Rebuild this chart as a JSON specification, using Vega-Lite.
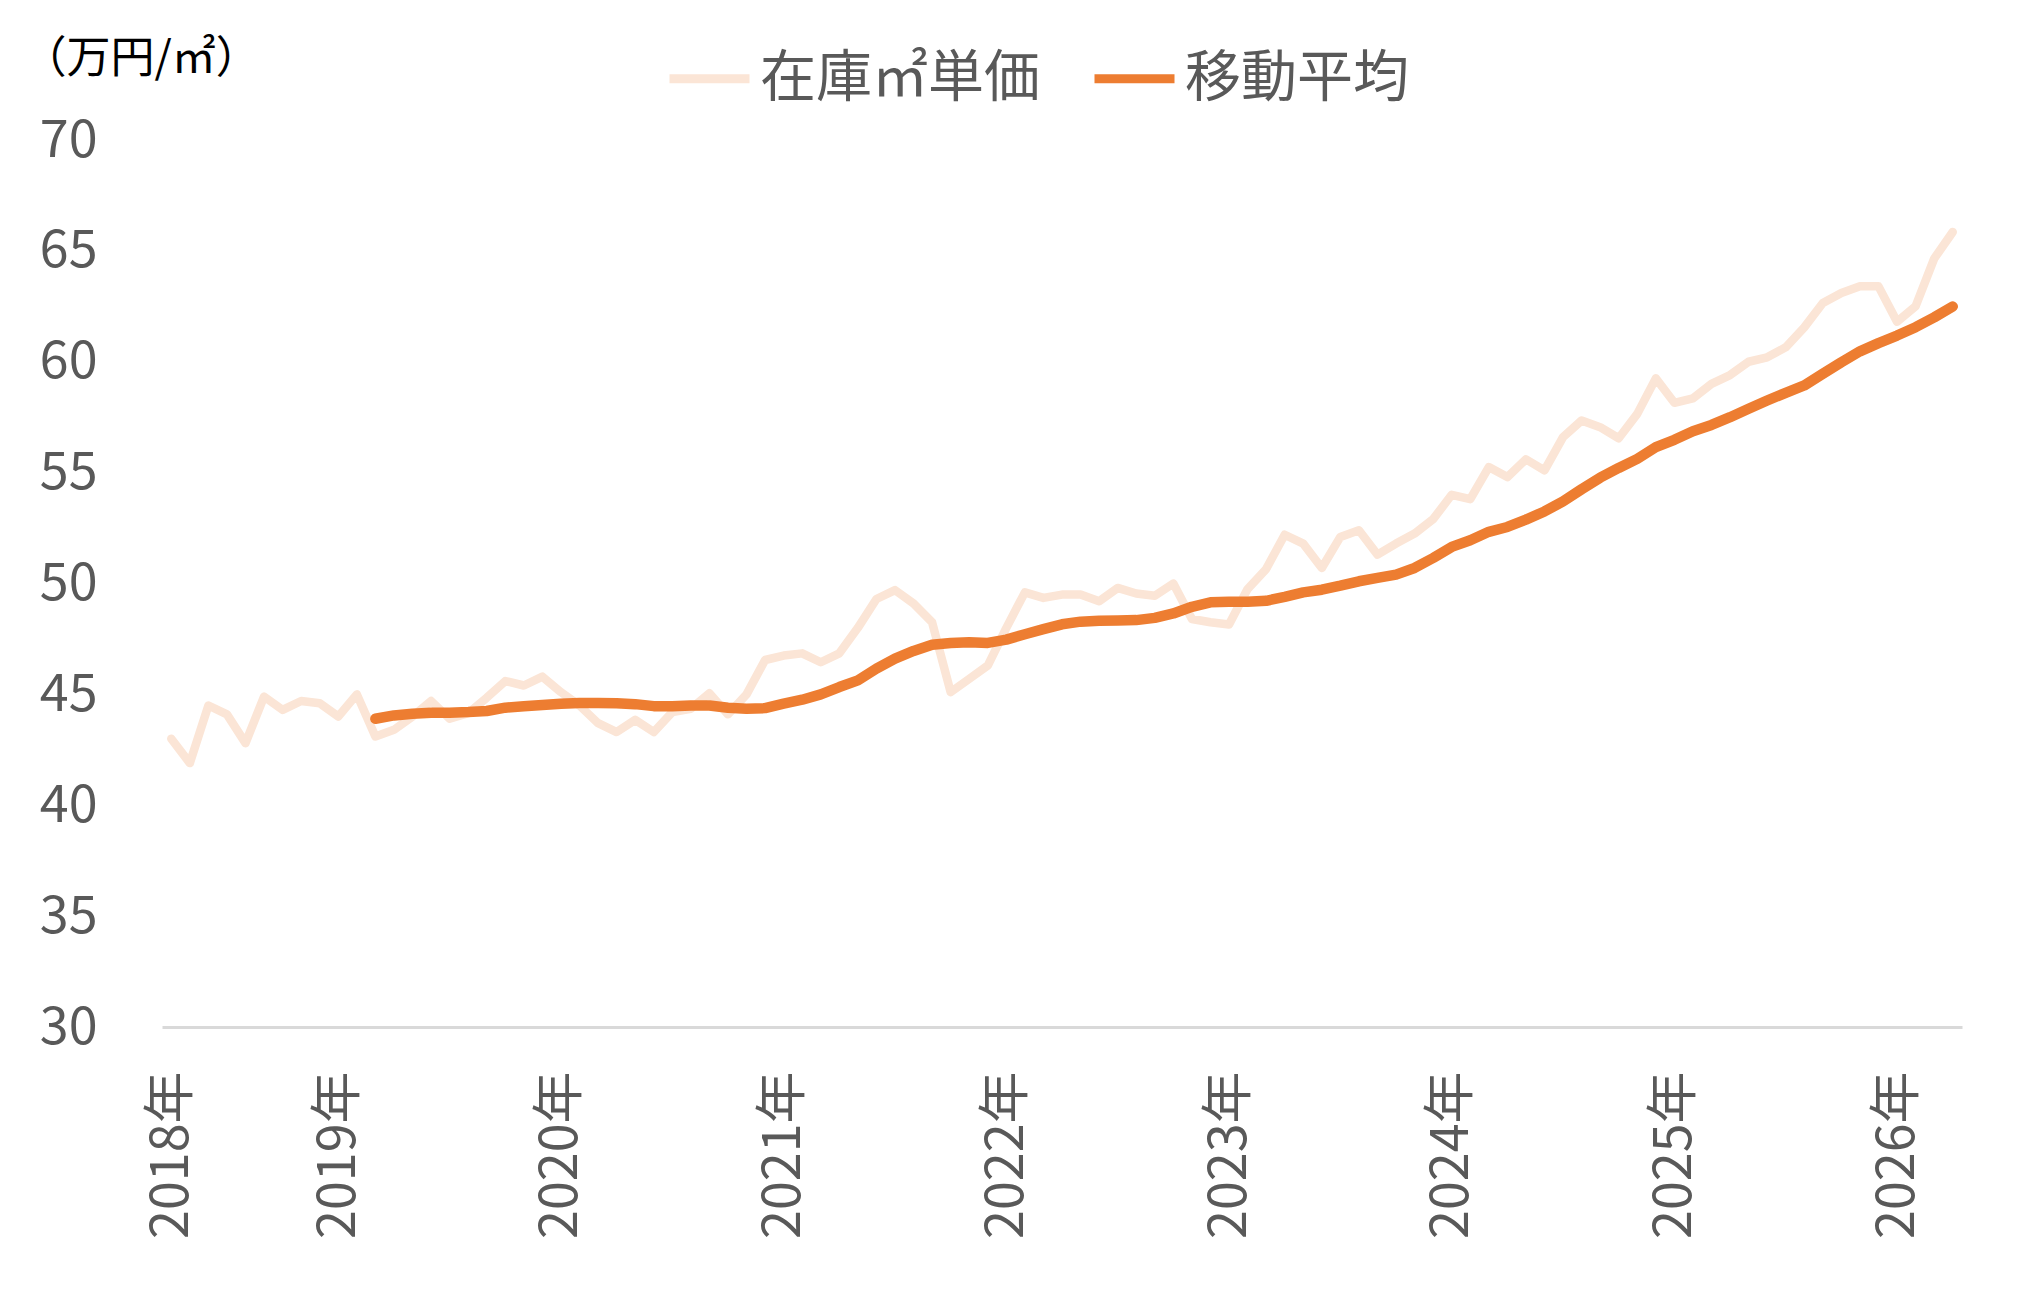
{
  "$schema": "https://vega.github.io/schema/vega-lite/v6.json",
  "width": 1800,
  "height": 887,
  "autosize": {"type": "none"},
  "padding": {"left": 162, "top": 140, "right": 56, "bottom": 273},
  "background": "white",
  "data": {
    "values": [
      {"m": "2018-04", "s": "在庫㎡単価", "v": 43.0},
      {"m": "2018-05", "s": "在庫㎡単価", "v": 41.9},
      {"m": "2018-06", "s": "在庫㎡単価", "v": 44.5},
      {"m": "2018-07", "s": "在庫㎡単価", "v": 44.1},
      {"m": "2018-08", "s": "在庫㎡単価", "v": 42.8},
      {"m": "2018-09", "s": "在庫㎡単価", "v": 44.9},
      {"m": "2018-10", "s": "在庫㎡単価", "v": 44.3},
      {"m": "2018-11", "s": "在庫㎡単価", "v": 44.7},
      {"m": "2018-12", "s": "在庫㎡単価", "v": 44.6},
      {"m": "2019-01", "s": "在庫㎡単価", "v": 44.0},
      {"m": "2019-02", "s": "在庫㎡単価", "v": 45.0},
      {"m": "2019-03", "s": "在庫㎡単価", "v": 43.1},
      {"m": "2019-04", "s": "在庫㎡単価", "v": 43.4},
      {"m": "2019-05", "s": "在庫㎡単価", "v": 44.0},
      {"m": "2019-06", "s": "在庫㎡単価", "v": 44.7},
      {"m": "2019-07", "s": "在庫㎡単価", "v": 43.9},
      {"m": "2019-08", "s": "在庫㎡単価", "v": 44.15},
      {"m": "2019-09", "s": "在庫㎡単価", "v": 44.85},
      {"m": "2019-10", "s": "在庫㎡単価", "v": 45.6},
      {"m": "2019-11", "s": "在庫㎡単価", "v": 45.4},
      {"m": "2019-12", "s": "在庫㎡単価", "v": 45.8},
      {"m": "2020-01", "s": "在庫㎡単価", "v": 45.1},
      {"m": "2020-02", "s": "在庫㎡単価", "v": 44.5},
      {"m": "2020-03", "s": "在庫㎡単価", "v": 43.7},
      {"m": "2020-04", "s": "在庫㎡単価", "v": 43.3},
      {"m": "2020-05", "s": "在庫㎡単価", "v": 43.85},
      {"m": "2020-06", "s": "在庫㎡単価", "v": 43.3},
      {"m": "2020-07", "s": "在庫㎡単価", "v": 44.2},
      {"m": "2020-08", "s": "在庫㎡単価", "v": 44.35},
      {"m": "2020-09", "s": "在庫㎡単価", "v": 45.05},
      {"m": "2020-10", "s": "在庫㎡単価", "v": 44.1},
      {"m": "2020-11", "s": "在庫㎡単価", "v": 45.0},
      {"m": "2020-12", "s": "在庫㎡単価", "v": 46.55},
      {"m": "2021-01", "s": "在庫㎡単価", "v": 46.75},
      {"m": "2021-02", "s": "在庫㎡単価", "v": 46.85},
      {"m": "2021-03", "s": "在庫㎡単価", "v": 46.45},
      {"m": "2021-04", "s": "在庫㎡単価", "v": 46.85},
      {"m": "2021-05", "s": "在庫㎡単価", "v": 48.0},
      {"m": "2021-06", "s": "在庫㎡単価", "v": 49.3},
      {"m": "2021-07", "s": "在庫㎡単価", "v": 49.7},
      {"m": "2021-08", "s": "在庫㎡単価", "v": 49.1},
      {"m": "2021-09", "s": "在庫㎡単価", "v": 48.25},
      {"m": "2021-10", "s": "在庫㎡単価", "v": 45.1},
      {"m": "2021-11", "s": "在庫㎡単価", "v": 45.7},
      {"m": "2021-12", "s": "在庫㎡単価", "v": 46.3},
      {"m": "2022-01", "s": "在庫㎡単価", "v": 48.0},
      {"m": "2022-02", "s": "在庫㎡単価", "v": 49.6},
      {"m": "2022-03", "s": "在庫㎡単価", "v": 49.35},
      {"m": "2022-04", "s": "在庫㎡単価", "v": 49.5},
      {"m": "2022-05", "s": "在庫㎡単価", "v": 49.5},
      {"m": "2022-06", "s": "在庫㎡単価", "v": 49.2},
      {"m": "2022-07", "s": "在庫㎡単価", "v": 49.8},
      {"m": "2022-08", "s": "在庫㎡単価", "v": 49.55},
      {"m": "2022-09", "s": "在庫㎡単価", "v": 49.45},
      {"m": "2022-10", "s": "在庫㎡単価", "v": 50.0},
      {"m": "2022-11", "s": "在庫㎡単価", "v": 48.4},
      {"m": "2022-12", "s": "在庫㎡単価", "v": 48.25},
      {"m": "2023-01", "s": "在庫㎡単価", "v": 48.15},
      {"m": "2023-02", "s": "在庫㎡単価", "v": 49.75},
      {"m": "2023-03", "s": "在庫㎡単価", "v": 50.65},
      {"m": "2023-04", "s": "在庫㎡単価", "v": 52.2},
      {"m": "2023-05", "s": "在庫㎡単価", "v": 51.8},
      {"m": "2023-06", "s": "在庫㎡単価", "v": 50.7},
      {"m": "2023-07", "s": "在庫㎡単価", "v": 52.1},
      {"m": "2023-08", "s": "在庫㎡単価", "v": 52.4},
      {"m": "2023-09", "s": "在庫㎡単価", "v": 51.3},
      {"m": "2023-10", "s": "在庫㎡単価", "v": 51.8},
      {"m": "2023-11", "s": "在庫㎡単価", "v": 52.25},
      {"m": "2023-12", "s": "在庫㎡単価", "v": 52.9},
      {"m": "2024-01", "s": "在庫㎡単価", "v": 54.0},
      {"m": "2024-02", "s": "在庫㎡単価", "v": 53.8},
      {"m": "2024-03", "s": "在庫㎡単価", "v": 55.25},
      {"m": "2024-04", "s": "在庫㎡単価", "v": 54.8},
      {"m": "2024-05", "s": "在庫㎡単価", "v": 55.6},
      {"m": "2024-06", "s": "在庫㎡単価", "v": 55.1},
      {"m": "2024-07", "s": "在庫㎡単価", "v": 56.6},
      {"m": "2024-08", "s": "在庫㎡単価", "v": 57.35},
      {"m": "2024-09", "s": "在庫㎡単価", "v": 57.05},
      {"m": "2024-10", "s": "在庫㎡単価", "v": 56.55},
      {"m": "2024-11", "s": "在庫㎡単価", "v": 57.65},
      {"m": "2024-12", "s": "在庫㎡単価", "v": 59.25},
      {"m": "2025-01", "s": "在庫㎡単価", "v": 58.15},
      {"m": "2025-02", "s": "在庫㎡単価", "v": 58.35},
      {"m": "2025-03", "s": "在庫㎡単価", "v": 59.0},
      {"m": "2025-04", "s": "在庫㎡単価", "v": 59.4},
      {"m": "2025-05", "s": "在庫㎡単価", "v": 60.0},
      {"m": "2025-06", "s": "在庫㎡単価", "v": 60.2},
      {"m": "2025-07", "s": "在庫㎡単価", "v": 60.65},
      {"m": "2025-08", "s": "在庫㎡単価", "v": 61.55},
      {"m": "2025-09", "s": "在庫㎡単価", "v": 62.65},
      {"m": "2025-10", "s": "在庫㎡単価", "v": 63.1},
      {"m": "2025-11", "s": "在庫㎡単価", "v": 63.4},
      {"m": "2025-12", "s": "在庫㎡単価", "v": 63.4},
      {"m": "2026-01", "s": "在庫㎡単価", "v": 61.8},
      {"m": "2026-02", "s": "在庫㎡単価", "v": 62.5},
      {"m": "2026-03", "s": "在庫㎡単価", "v": 64.65},
      {"m": "2026-04", "s": "在庫㎡単価", "v": 65.85},
      {"m": "2019-03", "s": "移動平均", "v": 43.9},
      {"m": "2019-04", "s": "移動平均", "v": 44.05},
      {"m": "2019-05", "s": "移動平均", "v": 44.13},
      {"m": "2019-06", "s": "移動平均", "v": 44.17},
      {"m": "2019-07", "s": "移動平均", "v": 44.17},
      {"m": "2019-08", "s": "移動平均", "v": 44.2},
      {"m": "2019-09", "s": "移動平均", "v": 44.25},
      {"m": "2019-10", "s": "移動平均", "v": 44.4},
      {"m": "2019-11", "s": "移動平均", "v": 44.46},
      {"m": "2019-12", "s": "移動平均", "v": 44.52},
      {"m": "2020-01", "s": "移動平均", "v": 44.58},
      {"m": "2020-02", "s": "移動平均", "v": 44.61},
      {"m": "2020-03", "s": "移動平均", "v": 44.61},
      {"m": "2020-04", "s": "移動平均", "v": 44.6},
      {"m": "2020-05", "s": "移動平均", "v": 44.56},
      {"m": "2020-06", "s": "移動平均", "v": 44.47},
      {"m": "2020-07", "s": "移動平均", "v": 44.46},
      {"m": "2020-08", "s": "移動平均", "v": 44.5},
      {"m": "2020-09", "s": "移動平均", "v": 44.5},
      {"m": "2020-10", "s": "移動平均", "v": 44.4},
      {"m": "2020-11", "s": "移動平均", "v": 44.35},
      {"m": "2020-12", "s": "移動平均", "v": 44.38},
      {"m": "2021-01", "s": "移動平均", "v": 44.58},
      {"m": "2021-02", "s": "移動平均", "v": 44.76},
      {"m": "2021-03", "s": "移動平均", "v": 45.0},
      {"m": "2021-04", "s": "移動平均", "v": 45.33},
      {"m": "2021-05", "s": "移動平均", "v": 45.63},
      {"m": "2021-06", "s": "移動平均", "v": 46.16},
      {"m": "2021-07", "s": "移動平均", "v": 46.61},
      {"m": "2021-08", "s": "移動平均", "v": 46.96},
      {"m": "2021-09", "s": "移動平均", "v": 47.24},
      {"m": "2021-10", "s": "移動平均", "v": 47.32},
      {"m": "2021-11", "s": "移動平均", "v": 47.35},
      {"m": "2021-12", "s": "移動平均", "v": 47.32},
      {"m": "2022-01", "s": "移動平均", "v": 47.47},
      {"m": "2022-02", "s": "移動平均", "v": 47.71},
      {"m": "2022-03", "s": "移動平均", "v": 47.94},
      {"m": "2022-04", "s": "移動平均", "v": 48.16},
      {"m": "2022-05", "s": "移動平均", "v": 48.28},
      {"m": "2022-06", "s": "移動平均", "v": 48.32},
      {"m": "2022-07", "s": "移動平均", "v": 48.33},
      {"m": "2022-08", "s": "移動平均", "v": 48.35},
      {"m": "2022-09", "s": "移動平均", "v": 48.45},
      {"m": "2022-10", "s": "移動平均", "v": 48.65},
      {"m": "2022-11", "s": "移動平均", "v": 48.95},
      {"m": "2022-12", "s": "移動平均", "v": 49.15},
      {"m": "2023-01", "s": "移動平均", "v": 49.18},
      {"m": "2023-02", "s": "移動平均", "v": 49.18},
      {"m": "2023-03", "s": "移動平均", "v": 49.22},
      {"m": "2023-04", "s": "移動平均", "v": 49.4},
      {"m": "2023-05", "s": "移動平均", "v": 49.6},
      {"m": "2023-06", "s": "移動平均", "v": 49.72},
      {"m": "2023-07", "s": "移動平均", "v": 49.9},
      {"m": "2023-08", "s": "移動平均", "v": 50.1},
      {"m": "2023-09", "s": "移動平均", "v": 50.25},
      {"m": "2023-10", "s": "移動平均", "v": 50.4},
      {"m": "2023-11", "s": "移動平均", "v": 50.7},
      {"m": "2023-12", "s": "移動平均", "v": 51.15},
      {"m": "2024-01", "s": "移動平均", "v": 51.65},
      {"m": "2024-02", "s": "移動平均", "v": 51.95},
      {"m": "2024-03", "s": "移動平均", "v": 52.33},
      {"m": "2024-04", "s": "移動平均", "v": 52.55},
      {"m": "2024-05", "s": "移動平均", "v": 52.88},
      {"m": "2024-06", "s": "移動平均", "v": 53.25},
      {"m": "2024-07", "s": "移動平均", "v": 53.7},
      {"m": "2024-08", "s": "移動平均", "v": 54.25},
      {"m": "2024-09", "s": "移動平均", "v": 54.77},
      {"m": "2024-10", "s": "移動平均", "v": 55.21},
      {"m": "2024-11", "s": "移動平均", "v": 55.62},
      {"m": "2024-12", "s": "移動平均", "v": 56.15},
      {"m": "2025-01", "s": "移動平均", "v": 56.48},
      {"m": "2025-02", "s": "移動平均", "v": 56.87},
      {"m": "2025-03", "s": "移動平均", "v": 57.15},
      {"m": "2025-04", "s": "移動平均", "v": 57.5},
      {"m": "2025-05", "s": "移動平均", "v": 57.88},
      {"m": "2025-06", "s": "移動平均", "v": 58.25},
      {"m": "2025-07", "s": "移動平均", "v": 58.6},
      {"m": "2025-08", "s": "移動平均", "v": 58.93},
      {"m": "2025-09", "s": "移動平均", "v": 59.46},
      {"m": "2025-10", "s": "移動平均", "v": 59.98},
      {"m": "2025-11", "s": "移動平均", "v": 60.47},
      {"m": "2025-12", "s": "移動平均", "v": 60.84},
      {"m": "2026-01", "s": "移動平均", "v": 61.18},
      {"m": "2026-02", "s": "移動平均", "v": 61.56},
      {"m": "2026-03", "s": "移動平均", "v": 62.0},
      {"m": "2026-04", "s": "移動平均", "v": 62.49}
    ]
  },
  "encoding": {
    "x": {
      "field": "m",
      "type": "ordinal",
      "scale": {"type": "point", "padding": 0.5},
      "axis": {
        "title": null,
        "values": ["2018-04", "2019-01", "2020-01", "2021-01", "2022-01", "2023-01", "2024-01", "2025-01", "2026-01"],
        "labelExpr": "substring(datum.value, 0, 4) + '年'",
        "labelAngle": -90,
        "labelPadding": 44,
        "labelFontSize": 52,
        "labelColor": "#595959",
        "ticks": false,
        "grid": false,
        "domainColor": "#D9D9D9",
        "domainWidth": 3
      }
    },
    "y": {
      "field": "v",
      "type": "quantitative",
      "scale": {"domain": [30, 70], "nice": false, "zero": false},
      "axis": {
        "values": [30, 35, 40, 45, 50, 55, 60, 65, 70],
        "domain": false,
        "ticks": false,
        "grid": false,
        "labelPadding": 65,
        "labelFontSize": 52,
        "labelColor": "#595959",
        "title": "（万円/㎡）",
        "titleAngle": 0,
        "titleAlign": "left",
        "titleBaseline": "alphabetic",
        "titleX": -140,
        "titleY": -68,
        "titleFontSize": 44,
        "titleFontWeight": "normal",
        "titleColor": "#000000"
      }
    },
    "color": {
      "field": "s",
      "type": "nominal",
      "scale": {"domain": ["在庫㎡単価", "移動平均"], "range": ["#FBE5D6", "#ED7D31"]},
      "legend": {
        "title": null,
        "orient": "none",
        "direction": "horizontal",
        "legendX": 503,
        "legendY": -106,
        "padding": 0,
        "symbolType": "stroke",
        "symbolSize": 6400,
        "symbolStrokeWidth": 9,
        "labelFontSize": 56,
        "labelLimit": 0,
        "labelColor": "#595959",
        "labelOffset": 6,
        "columnPadding": 36
      }
    }
  },
  "layer": [
    {
      "transform": [{"filter": "datum.s === '在庫㎡単価'"}],
      "mark": {"type": "line", "strokeWidth": 8.5, "strokeCap": "round", "strokeJoin": "round"}
    },
    {
      "transform": [{"filter": "datum.s === '移動平均'"}],
      "mark": {"type": "line", "strokeWidth": 10.5, "strokeCap": "round", "strokeJoin": "round"}
    }
  ],
  "config": {
    "font": "Noto Sans CJK JP",
    "view": {"stroke": null}
  }
}
